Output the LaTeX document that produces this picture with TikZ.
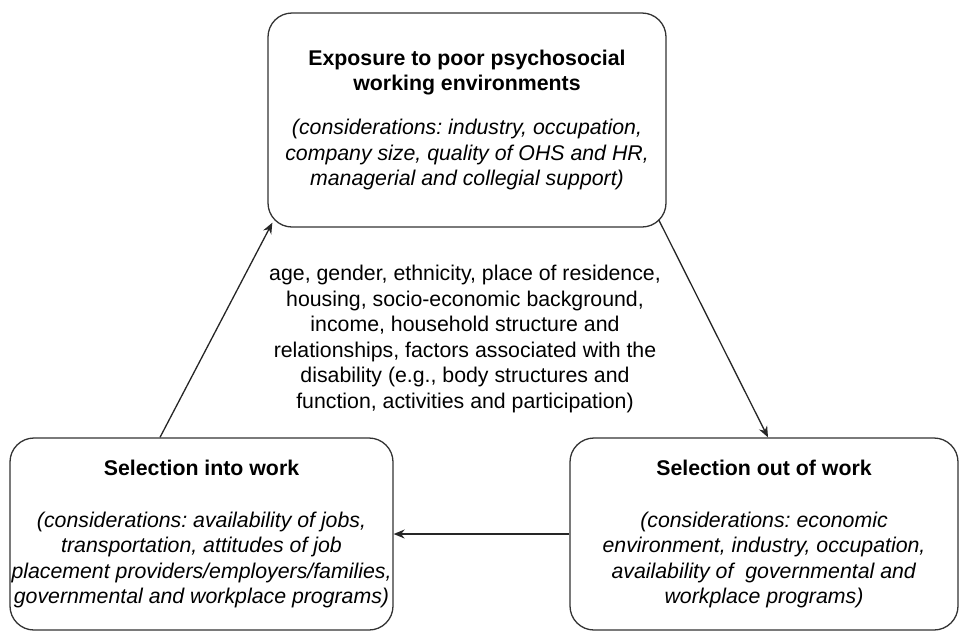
\documentclass[tikz,border=0pt]{standalone}
\usepackage{fontspec}
\setmainfont{Liberation Sans}
\usetikzlibrary{arrows.meta}
\frenchspacing

\begin{document}
\begin{tikzpicture}[x=1pt, y=-1pt,
        font=\fontsize{21.3}{25.5}\selectfont,
        roundbox/.style={rectangle, rounded corners=24pt, draw=black!80, line width=1.3pt, align=center, inner sep=0pt, minimum height=192pt},
        arrow/.style={-{Stealth[length=11pt,width=9pt]}, line width=1.3pt, draw=black!85},
    ]
        \useasboundingbox (0,0) rectangle (960,633);

        %Nodes
        \node[roundbox, minimum width=398pt, minimum height=214pt] (exposure) at (467,120) {\textbf{Exposure to poor psychosocial}\\\textbf{working environments}\\[18.5pt]
            \textit{(considerations: industry, occupation,}\\\textit{company size, quality of OHS and HR,}\\\textit{managerial and collegial support)}};

        \node[roundbox, minimum width=383pt] (selIn) at (201.5,534) {\textbf{Selection into work}\\[26.5pt]
            \textit{(considerations: availability of jobs,}\\\textit{transportation, attitudes of job}\\\textit{placement providers/employers/families,}\\\textit{governmental and workplace programs)}};

        \node[roundbox, minimum width=388pt] (selOut) at (764,534) {\textbf{Selection out of work}\\[26.5pt]
            \textit{(considerations: economic}\\\textit{environment, industry, occupation,}\\\textit{availability of\ \ governmental and}\\\textit{workplace programs)}};

        \node[align=center, inner sep=0pt] (factors) at (465,339) {age, gender, ethnicity, place of residence,\\housing, socio-economic background,\\income, household structure and\\relationships, factors associated with the\\disability (e.g., body structures and\\function, activities and participation)};

        %Lines
        \draw[arrow] ([xshift=-41.5pt]selIn.north) -- ([shift={(5,-5)}]exposure.south west);
        \draw[arrow] ([shift={(-8,-8)}]exposure.south east) -- ([xshift=4pt]selOut.north);
        \draw[arrow] (selOut.west) -- (selIn.east);
    \end{tikzpicture}
\end{document}
